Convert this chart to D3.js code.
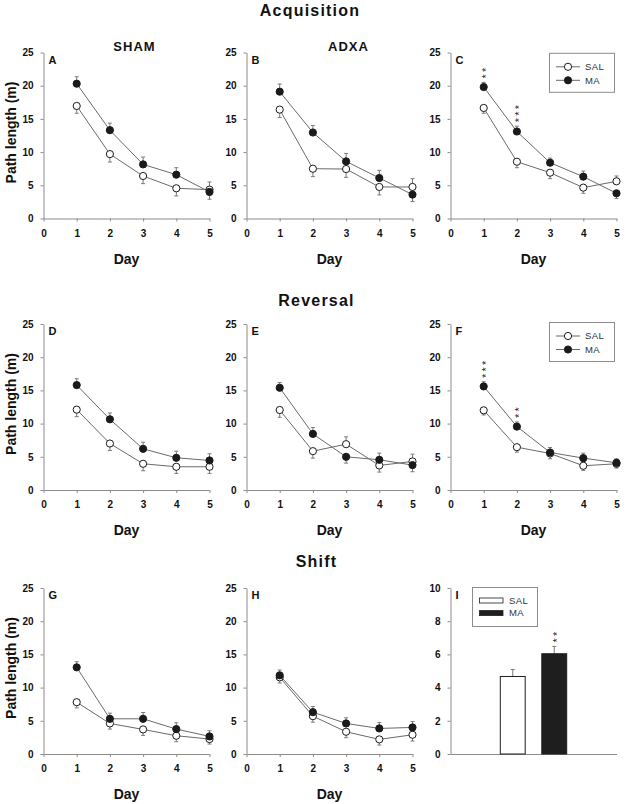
<!DOCTYPE html>
<html>
<head>
<meta charset="utf-8">
<script src="https://cdn.jsdelivr.net/npm/d3@7"></script>
<style>
  html, body { margin: 0; padding: 0; background: #fff; }
  svg { display: block; font-family: "Liberation Sans", Arial, sans-serif; }
</style>
</head>
<body>
<svg id="chart" width="627" height="804"></svg>
<script>
// ---------------- DATA ----------------
const days = [1, 2, 3, 4, 5];
const dayTicks = [0, 1, 2, 3, 4, 5];
const pathTicks = [0, 5, 10, 15, 20, 25];
const barTicks = [0, 2, 4, 6, 8, 10];
const groups = ["SAL", "MA"];

// Acquisition
const acqShamSal = [16.95, 9.7, 6.4, 4.55, 4.35];
const acqShamSalErr = [1.1, 1.2, 1.15, 1.15, 1.15];
const acqShamMa = [20.3, 13.3, 8.15, 6.6, 4.0];
const acqShamMaErr = [1.05, 1.05, 1.1, 1.05, 1.1];

const acqAdxaSal = [16.4, 7.5, 7.45, 4.75, 4.75];
const acqAdxaSalErr = [1.2, 1.2, 1.25, 1.2, 1.25];
const acqAdxaMa = [19.1, 12.95, 8.6, 6.1, 3.6];
const acqAdxaMaErr = [1.15, 1.05, 1.2, 1.15, 1.05];

const acqAllSal = [16.65, 8.55, 6.9, 4.65, 5.6];
const acqAllSalErr = [0.8, 0.9, 0.9, 0.85, 0.8];
const acqAllMa = [19.8, 13.1, 8.4, 6.3, 3.8];
const acqAllMaErr = [0.7, 0.8, 0.7, 0.85, 0.8];
const acqAllStars = [2, 3, 0, 0, 0];

// Reversal
const revShamSal = [12.1, 7.0, 3.95, 3.5, 3.5];
const revShamSalErr = [1.05, 1.05, 1.05, 1.0, 1.0];
const revShamMa = [15.8, 10.65, 6.2, 4.85, 4.45];
const revShamMaErr = [0.95, 0.95, 1.0, 1.0, 1.0];

const revAdxaSal = [12.05, 5.85, 6.9, 3.7, 4.3];
const revAdxaSalErr = [1.1, 1.05, 1.1, 1.0, 1.1];
const revAdxaMa = [15.4, 8.45, 5.0, 4.55, 3.75];
const revAdxaMaErr = [0.8, 0.95, 0.95, 1.0, 1.0];

const revAllSal = [12.0, 6.45, 5.5, 3.65, 3.95];
const revAllSalErr = [0.7, 0.75, 0.8, 0.7, 0.65];
const revAllMa = [15.6, 9.55, 5.65, 4.8, 4.1];
const revAllMaErr = [0.7, 0.7, 0.75, 0.75, 0.6];
const revAllStars = [3, 2, 0, 0, 0];

// Shift
const shiftShamSal = [7.8, 4.6, 3.7, 2.75, 2.25];
const shiftShamSalErr = [0.85, 0.85, 0.9, 0.9, 0.75];
const shiftShamMa = [13.05, 5.3, 5.3, 3.75, 2.65];
const shiftShamMaErr = [0.85, 0.85, 0.95, 0.95, 0.85];

const shiftAdxaSal = [11.55, 5.7, 3.35, 2.2, 2.9];
const shiftAdxaSalErr = [0.85, 0.9, 0.9, 0.85, 0.95];
const shiftAdxaMa = [11.85, 6.3, 4.6, 3.85, 4.0];
const shiftAdxaMaErr = [0.8, 0.85, 0.85, 0.9, 0.9];

const shiftBarValues = [4.67, 6.04];
const shiftBarErr = [0.42, 0.44];
const shiftBarStars = [0, 2];

// ---------------- LAYOUT ----------------
const colLeft = [43.5, 246.5, 450.5];
const rowTop = [52.5, 324, 588];
const plotW = 166, plotH = 166;

const svg = d3.select("#chart");
const axisColor = "#8c8c8c";
const lineColor = "#6a6a6a";
const errColor = "#7a7a7a";
const dark = "#1a1a1a";

function styleAxis(g) {
  g.select(".domain").attr("stroke", axisColor).attr("stroke-width", 1);
  g.selectAll(".tick line").attr("stroke", axisColor);
  g.selectAll(".tick text")
    .attr("fill", "#111")
    .style("font-size", "10px")
    .style("font-weight", "bold");
}

// stacked significance stars: one text, written upward (rotated), so the stars stack vertically
function drawStars(g, cx, yTop, n) {
  const fs = 11;
  const glyphW = 0.389 * fs;      // asterisk advance
  const spacing = 6.5;
  g.append("text")
    .attr("transform", `translate(${cx + 0.58 * fs},${yTop - 6 + glyphW / 2}) rotate(-90)`)
    .attr("fill", "#222")
    .style("font-size", fs + "px")
    .style("letter-spacing", (spacing - glyphW) + "px")
    .text("*".repeat(n));
}

function drawLegendLines(g, bx, by) {
  g.append("rect")
    .attr("x", bx).attr("y", by).attr("width", 65).attr("height", 39)
    .attr("fill", "#fff").attr("stroke", axisColor).attr("stroke-width", 1);
  const items = [{name: "SAL", fill: "#fff", dy: 13.5}, {name: "MA", fill: dark, dy: 27}];
  items.forEach(it => {
    g.append("line")
      .attr("x1", bx + 6.5).attr("x2", bx + 30.5)
      .attr("y1", by + it.dy).attr("y2", by + it.dy)
      .attr("stroke", lineColor);
    g.append("circle")
      .attr("cx", bx + 18.5).attr("cy", by + it.dy).attr("r", 3.6)
      .attr("fill", it.fill).attr("stroke", dark);
    g.append("text")
      .attr("x", bx + 35.5).attr("y", by + it.dy + 3.3)
      .attr("fill", "#333")
      .style("font-size", "9.5px")
      .style("letter-spacing", "0.4px")
      .text(it.name);
  });
}

function linePanel(col, row, letter, sal, salErr, ma, maErr, opts) {
  opts = opts || {};
  const g = svg.append("g").attr("transform", `translate(${colLeft[col]},${rowTop[row]})`);
  const x = d3.scaleLinear().domain([0, 5]).range([0, plotW]);
  const y = d3.scaleLinear().domain([0, 25]).range([plotH, 0]);

  g.append("g").attr("transform", `translate(0,${plotH})`)
    .call(d3.axisBottom(x).tickValues(dayTicks).tickFormat(d3.format("d")).tickSize(3).tickSizeOuter(0).tickPadding(8))
    .call(styleAxis);
  g.append("g")
    .call(d3.axisLeft(y).tickValues(pathTicks).tickFormat(d3.format("d")).tickSize(3).tickSizeOuter(0).tickPadding(7))
    .call(styleAxis);

  const salPts = days.map((d, i) => ({d, v: sal[i], e: salErr[i], up: sal[i] >= ma[i]}));
  const maPts = days.map((d, i) => ({d, v: ma[i], e: maErr[i], up: ma[i] > sal[i]}));

  // error bars
  [salPts, maPts].forEach(pts => {
    pts.forEach(p => {
      const yEnd = y(p.up ? p.v + p.e : p.v - p.e);
      g.append("line")
        .attr("x1", x(p.d)).attr("x2", x(p.d))
        .attr("y1", y(p.v)).attr("y2", yEnd)
        .attr("stroke", errColor);
      g.append("line")
        .attr("x1", x(p.d) - 2).attr("x2", x(p.d) + 2)
        .attr("y1", yEnd).attr("y2", yEnd)
        .attr("stroke", errColor);
    });
  });

  const line = d3.line().x(p => x(p.d)).y(p => y(p.v));
  [salPts, maPts].forEach(pts => {
    g.append("path").attr("d", line(pts)).attr("fill", "none")
      .attr("stroke", lineColor).attr("stroke-width", 1);
  });

  g.selectAll(".sal").data(salPts).enter().append("circle")
    .attr("cx", p => x(p.d)).attr("cy", p => y(p.v)).attr("r", 3.6)
    .attr("fill", "#fff").attr("stroke", dark).attr("stroke-width", 1);
  g.selectAll(".ma").data(maPts).enter().append("circle")
    .attr("cx", p => x(p.d)).attr("cy", p => y(p.v)).attr("r", 3.6)
    .attr("fill", dark).attr("stroke", dark).attr("stroke-width", 1);

  if (opts.stars) {
    maPts.forEach((p, i) => {
      if (opts.stars[i] > 0) drawStars(g, x(p.d), y(p.v + p.e), opts.stars[i]);
    });
  }
  if (opts.legend) drawLegendLines(g, 99, opts.legendY);

  g.append("text").attr("x", 5).attr("y", 11)
    .attr("fill", "#111").style("font-size", "11px").style("font-weight", "bold")
    .text(letter);

  g.append("text").attr("x", plotW / 2).attr("y", plotH + 45)
    .attr("text-anchor", "middle").attr("fill", "#111")
    .style("font-size", "14px").style("font-weight", "bold")
    .text("Day");

  if (col === 0) {
    svg.append("text")
      .attr("transform", `translate(15.5,${rowTop[row] + plotH / 2 - 3}) rotate(-90)`)
      .attr("text-anchor", "middle").attr("fill", "#111")
      .style("font-size", "14px").style("font-weight", "bold")
      .text("Path length (m)");
  }
}

function barPanel(col, row, letter) {
  const g = svg.append("g").attr("transform", `translate(${colLeft[col]},${rowTop[row]})`);
  const x = d3.scaleBand().domain(groups).range([0, plotW]).paddingInner(0.4).paddingOuter(1.2);
  const y = d3.scaleLinear().domain([0, 10]).range([plotH, 0]);

  g.append("g").attr("transform", `translate(0,${plotH})`)
    .call(d3.axisBottom(x).tickSize(0).tickSizeOuter(0).tickFormat(""))
    .call(styleAxis);
  g.append("g")
    .call(d3.axisLeft(y).tickValues(barTicks).tickFormat(d3.format("d")).tickSize(3).tickSizeOuter(0).tickPadding(7))
    .call(styleAxis);

  groups.forEach((gr, i) => {
    const cx = x(gr) + x.bandwidth() / 2;
    const yEnd = y(shiftBarValues[i] + shiftBarErr[i]);
    g.append("line").attr("x1", cx).attr("x2", cx)
      .attr("y1", y(shiftBarValues[i])).attr("y2", yEnd).attr("stroke", errColor);
    g.append("line").attr("x1", cx - 2).attr("x2", cx + 2)
      .attr("y1", yEnd).attr("y2", yEnd).attr("stroke", errColor);
    g.append("rect")
      .attr("x", x(gr)).attr("y", y(shiftBarValues[i]))
      .attr("width", x.bandwidth()).attr("height", plotH - y(shiftBarValues[i]))
      .attr("fill", i === 0 ? "#fff" : "#1e1e1e")
      .attr("stroke", "#1e1e1e").attr("stroke-width", 1);
    if (shiftBarStars[i] > 0) drawStars(g, cx, yEnd, shiftBarStars[i]);
  });

  // legend
  const bx = 22, by = -0.5;
  g.append("rect").attr("x", bx).attr("y", by).attr("width", 65).attr("height", 39)
    .attr("fill", "#fff").attr("stroke", axisColor);
  groups.forEach((gr, i) => {
    const cy = by + 13 + i * 12.6;
    g.append("rect").attr("x", bx + 7).attr("y", cy - 2.5).attr("width", 23.5).attr("height", 5)
      .attr("fill", i === 0 ? "#fff" : "#1e1e1e").attr("stroke", "#1e1e1e").attr("stroke-width", 0.8);
    g.append("text").attr("x", bx + 36.5).attr("y", cy + 3.3)
      .attr("fill", "#333").style("font-size", "9.5px").style("letter-spacing", "0.4px")
      .text(gr);
  });

  g.append("text").attr("x", 5).attr("y", 10.5)
    .attr("fill", "#111").style("font-size", "11px").style("font-weight", "bold")
    .text(letter);
}

// ---------------- PANELS ----------------
linePanel(0, 0, "A", acqShamSal, acqShamSalErr, acqShamMa, acqShamMaErr);
linePanel(1, 0, "B", acqAdxaSal, acqAdxaSalErr, acqAdxaMa, acqAdxaMaErr);
linePanel(2, 0, "C", acqAllSal, acqAllSalErr, acqAllMa, acqAllMaErr, {stars: acqAllStars, legend: true, legendY: 0.8});
linePanel(0, 1, "D", revShamSal, revShamSalErr, revShamMa, revShamMaErr);
linePanel(1, 1, "E", revAdxaSal, revAdxaSalErr, revAdxaMa, revAdxaMaErr);
linePanel(2, 1, "F", revAllSal, revAllSalErr, revAllMa, revAllMaErr, {stars: revAllStars, legend: true, legendY: -1.5});
linePanel(0, 2, "G", shiftShamSal, shiftShamSalErr, shiftShamMa, shiftShamMaErr);
linePanel(1, 2, "H", shiftAdxaSal, shiftAdxaSalErr, shiftAdxaMa, shiftAdxaMaErr);
barPanel(2, 2, "I");

// ---------------- TITLES ----------------
const titles = [
  {t: "Acquisition", x: 310, y: 15.5, s: 16, ls: 1.2},
  {t: "Reversal", x: 316.5, y: 305.5, s: 16, ls: 1.2},
  {t: "Shift", x: 316.5, y: 566.5, s: 16, ls: 1.2},
  {t: "SHAM", x: 134.5, y: 51, s: 13, ls: 1},
  {t: "ADXA", x: 348.5, y: 50.5, s: 13, ls: 1}
];
titles.forEach(d => {
  svg.append("text").attr("x", d.x).attr("y", d.y)
    .attr("text-anchor", "middle").attr("fill", "#111")
    .style("font-size", d.s + "px").style("font-weight", "bold")
    .style("letter-spacing", d.ls + "px")
    .text(d.t);
});
</script>
</body>
</html>
